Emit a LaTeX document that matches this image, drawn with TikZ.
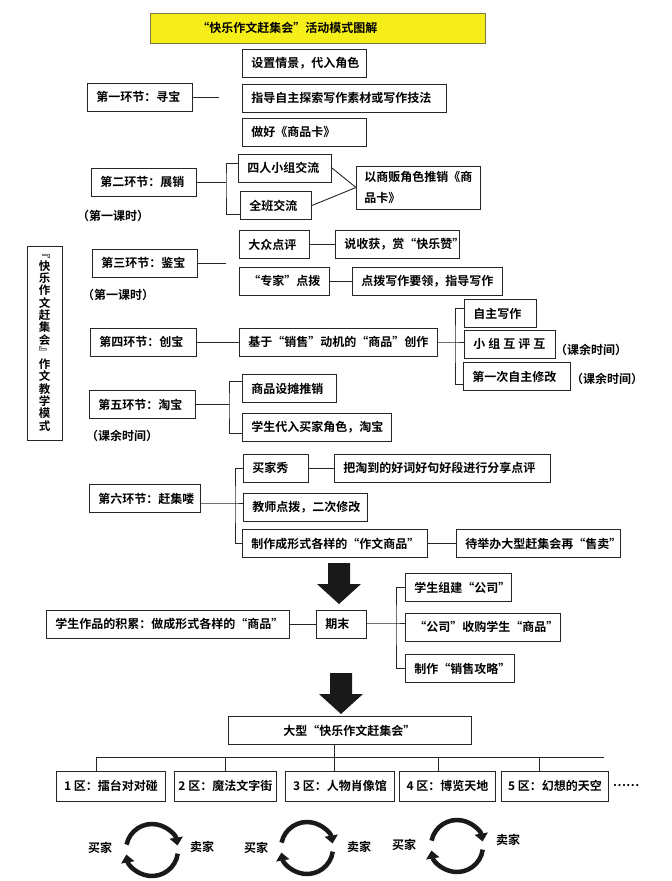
\documentclass[tikz,border=0pt]{standalone}
\usepackage{fontspec}
\setmainfont{Noto Sans CJK SC}[BoldFont={Noto Sans CJK SC Bold}]
\usetikzlibrary{arrows.meta}
\definecolor{titleyellow}{RGB}{246,238,24}
\tikzset{
  box/.style={draw=black!85,line width=0.9pt,anchor=west,align=left,inner xsep=9pt,inner ysep=2pt,minimum height=28pt,font=\fontsize{12pt}{14pt}\selectfont\bfseries},
  title box/.style={box,fill=titleyellow,draw=black!60!yellow,minimum height=30pt},
  link/.style={black!85,line width=0.9pt},
  note/.style={inner sep=0pt,font=\fontsize{12pt}{14pt}\selectfont\bfseries},
  big arrow/.style={fill=black!90},
  swap arc/.style={black!90,line width=4.5pt,-{Triangle[length=8pt,width=13pt]}},
}
\begin{document}
\begin{tikzpicture}[x=1pt,y=-1pt]
  \useasboundingbox (0,0) rectangle (672,881);
  \node[title box,text width=317pt] (title) at (150,28) {\hspace*{38pt}“快乐作文赶集会”活动模式图解};

  % first stage
  \node[box,text width=87pt] (s1) at (87,97) {第一环节：寻宝};
  \node[box,text width=106pt] (s1a) at (242,63) {设置情景，代入角色};
  \node[box,text width=186pt] (s1b) at (242,98) {指导自主探索写作素材或写作技法};
  \node[box,text width=106pt] (s1c) at (242,132) {做好《商品卡》};
  \coordinate (e1) at (219,97);
  \draw[link] (s1) -- (e1);

  % second stage
  \node[box,text width=87pt] (s2) at (91,182) {第二环节：展销};
  \node[box,text width=75pt] (s2a) at (238,168) {四人小组交流};
  \node[box,text width=53pt] (s2b) at (240,205.5) {全班交流};
  \node[box,text width=108pt,inner xsep=8pt,minimum height=43pt,font=\fontsize{12pt}{21pt}\selectfont\bfseries] (s2c) at (356,187.5) {以商贩角色推销《商\\品卡》};
  \node[note] (n2) at (113,216) {（第一课时）};
  \coordinate (j2) at (226,182);
  \draw[link] (s2) -- (j2);
  \draw[link] ([yshift=5pt]s2a.west) -| (j2) |- ([yshift=-9pt]s2b.west);
  \draw[link] (s2a.east) -- (s2c.west);
  \draw[link] (s2b.east) -- (s2c.west);

  % third stage
  \node[box,text width=87pt] (s3) at (92,263) {第三环节：鉴宝};
  \node[box,text width=52pt] (s3a) at (239,244.5) {大众点评};
  \node[box,text width=106pt] (s3b) at (335,244.5) {说收获，赏“快乐赞”};
  \node[box,text width=72pt] (s3c) at (239,281) {“专家”点拨};
  \node[box,text width=132pt] (s3d) at (352,281) {点拨写作要领，指导写作};
  \node[note] (n3) at (118,295) {（第一课时）};
  \coordinate (e3) at (226,263);
  \draw[link] (s3) -- (e3);
  \draw[link] (s3a) -- (s3b);
  \draw[link] (s3c) -- (s3d);

  \node[box,anchor=center,align=center,minimum width=35pt,text width=13pt,inner xsep=2pt,minimum height=194pt,font=\fontsize{11.5pt}{12.3pt}\selectfont\bfseries] (mode) at (44.5,343)
    {﹃\\快\\乐\\作\\文\\赶\\集\\会\\﹄\\作\\文\\教\\学\\模\\式};

  % fourth stage
  \node[box,text width=88pt] (s4) at (90,342) {第四环节：创宝};
  \node[box,text width=180pt] (s4a) at (239,342) {基于“销售”动机的“商品”创作};
  \node[box,text width=54pt] (s4b) at (464,313.5) {自主写作};
  \node[box,text width=73pt] (s4c) at (464,344) {小\hspace{3pt}组\hspace{3pt}互\hspace{3pt}评\hspace{3pt}互};
  \node[box,text width=89pt] (s4d) at (463,376.5) {第一次自主修改};
  \node[note] (n4c) at (591,350) {（课余时间）};
  \node[note] (n4d) at (607,379) {（课余时间）};
  \coordinate (j4) at (455,342);
  \draw[link] (s4) -- (s4a);
  \draw[link] (s4a) -- (j4) -- (j4 -| s4c.west);
  \draw[link] ([yshift=5pt]s4b.west) -| (j4) |- ([yshift=-8pt]s4d.west);

  % fifth stage
  \node[box,text width=88pt] (s5) at (89,404.5) {第五环节：淘宝};
  \node[box,text width=76pt] (s5a) at (242,388.5) {商品设摊推销};
  \node[box,text width=131pt] (s5b) at (242,427) {学生代入买家角色，淘宝};
  \node[note] (n5) at (122,436) {（课余时间）};
  \coordinate (j5) at (229,404.5);
  \draw[link] (s5) -- (j5);
  \draw[link] ([yshift=7pt]s5a.west) -| (j5) |- ([yshift=-6pt]s5b.west);

  % sixth stage
  \node[box,text width=93pt] (s6) at (89,498.5) {第六环节：赶集喽};
  \node[box,text width=47pt] (s6a) at (243,468) {买家秀};
  \node[box,text width=198pt] (s6b) at (334,468) {把淘到的好词好句好段进行分享点评};
  \node[box,text width=106pt] (s6c) at (243,507.5) {教师点拨，二次修改};
  \node[box,text width=167pt] (s6d) at (242,543.5) {制作成形式各样的“作文商品”};
  \node[box,text width=146pt] (s6e) at (456,543.5) {待举办大型赶集会再“售卖”};
  \coordinate (j6) at (235,503);
  \draw[link] (s6.east |- j6) -- (j6) -- (j6 -| s6c.west);
  \draw[link] (s6a.west) -| (j6) |- (s6d.west);
  \draw[link] (s6a) -- (s6b);
  \draw[link] (s6d) -- (s6e);

  \foreach \ax/\ay in {339/563,341/673}
    \fill[big arrow] (\ax-11,\ay) -- (\ax+11,\ay) -- (\ax+11,\ay+21) -- (\ax+22,\ay+21)
      -- (\ax,\ay+41) -- (\ax-22,\ay+21) -- (\ax-11,\ay+21) -- cycle;

  % end of term
  \node[box,text width=225pt] (acc) at (46,624) {学生作品的积累：做成形式各样的“商品”};
  \node[box,text width=32pt] (qm) at (316,624) {期末};
  \node[box,text width=88pt] (qma) at (405,587.5) {学生组建“公司”};
  \node[box,text width=137pt] (qmb) at (405,627) {“公司”收购学生“商品”};
  \node[box,text width=91pt] (qmc) at (405,668.5) {制作“销售攻略”};
  \coordinate (jq) at (396,623);
  \draw[link] (acc) -- (qm);
  \draw[link] (qm.east |- jq) -- (jq) -- (jq -| qmb.west);
  \draw[link] (qma.west) -| (jq) |- (qmc.west);

  % fair
  \node[box,text width=225pt,align=center] (fair) at (227.5,730.5) {大型“快乐作文赶集会”};
  \coordinate (bus) at (334,757);
  \coordinate (busL) at (96,757);
  \coordinate (busR) at (604,757);
  \draw[link] (fair.south -| bus) -- (bus);
  \draw[link] (busL) -- (busR);
  \foreach \i/\x/\w/\t in {1/56/109/{1 区：擂台对对碰},2/174/99/{2 区：魔法文字街},3/285/109/{3 区：人物肖像馆},4/399/96/{4 区：博览天地},5/501/107/{5 区：幻想的天空}}
    \node[box,align=center,inner xsep=4pt,minimum width=\w pt,minimum height=30pt] (z\i) at (\x,786) {\t};
  \foreach \i/\dx in {1/96,2/225,3/334,4/438,5/539}{
    \coordinate (d\i) at (\dx,757);
    \draw[link] (d\i) -- (d\i |- z\i.north);
  }
  \node[note] (more) at (626,786) {……};

  % buyers and sellers
  \foreach \i/\cx/\cy in {1/152/850,2/307/848,3/457/846}{
    \coordinate (c\i) at (\cx,\cy);
    \draw[swap arc] ([shift={(-168:26)}]c\i) arc[start angle=-168,end angle=-10,radius=26];
    \draw[swap arc] ([shift={(8:26)}]c\i) arc[start angle=8,end angle=170,radius=26];
  }
  \foreach \i/\bx/\by/\sx/\sy in {1/100/848/202/847,2/256/848/359/847,3/404/845/508/840}{
    \node[note] (buy\i) at (\bx,\by) {买家};
    \node[note] (sell\i) at (\sx,\sy) {卖家};
  }
\end{tikzpicture}
\end{document}
